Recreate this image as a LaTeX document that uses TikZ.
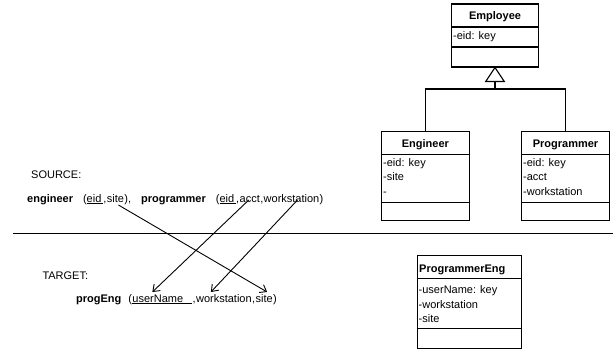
\documentclass[tikz,border=0pt]{standalone}
\usepackage{fontspec}
\setmainfont{Liberation Sans}
\usetikzlibrary{arrows.meta, positioning, calc}

\tikzset{
  txt/.style={inner sep=0pt, font=\fontsize{11}{13}\selectfont},
  ttl/.style={inner sep=0pt, anchor=base, font=\fontsize{11}{13}\selectfont\bfseries},
  attr/.style={txt, anchor=base west},
  cls/.style={draw, line width=1.1pt, inner sep=0pt},
  bar/.style={line width=1.1pt},
  map/.style={line width=0.9pt, -{Straight Barb[length=6pt,width=9pt]}},
}

\begin{document}
\begin{tikzpicture}[x=1pt, y=-1pt]
\useasboundingbox (0,0) rectangle (613,350);

\node[cls, minimum width=86.6pt, minimum height=63pt] (emp) at (495,35.5) {};
\node[cls, minimum width=87.3pt, minimum height=89pt] (eng) at (425.4,176.2) {};
\node[cls, minimum width=87.6pt, minimum height=89pt] (prg) at (565.5,176.2) {};
\node[cls, minimum width=104.4pt, minimum height=92.6pt] (pe) at (469.5,302) {};
\draw[bar]
  (emp.west |- 0,27) -- (emp.east |- 0,27)
  (emp.west |- 0,47) -- (emp.east |- 0,47)
  (eng.west |- 0,154.3) -- (eng.east |- 0,154.3)
  (eng.west |- 0,202.7) -- (eng.east |- 0,202.7)
  (prg.west |- 0,154.3) -- (prg.east |- 0,154.3)
  (prg.west |- 0,202.7) -- (prg.east |- 0,202.7)
  (pe.west |- 0,278.3) -- (pe.east |- 0,278.3)
  (pe.west |- 0,328.3) -- (pe.east |- 0,328.3);

\node[ttl] (empT) at (495,20) {Employee};
\node[attr] (empA) at (453,39.3) {-eid: key};
\node[ttl] (engT) at (425.4,147.5) {Engineer};
\node[attr] (engA) at (383,166.3) {-eid: key};
\node[attr] (engB) at (383,180.8) {-site};
\node[attr] (engC) at (383,195.3) {-};
\node[ttl] (prgT) at (565.5,147.5) {Programmer};
\node[attr] (prgA) at (523,166.3) {-eid: key};
\node[attr] (prgB) at (523,180.8) {-acct};
\node[attr] (prgC) at (523,195.3) {-workstation};
\node[ttl, anchor=base west] (peT) at (419,272.3) {ProgrammerEng};
\node[attr] (peA) at (418.5,293.3) {-userName: key};
\node[attr] (peB) at (418.5,308) {-workstation};
\node[attr] (peC) at (418.5,322.7) {-site};

\draw[bar] (emp.south) -- ++(-9.3,14) -- ++(18.6,0) -- cycle;
\path (emp.south) ++(0,14) coordinate (tri);
\coordinate (join) at (495,89);
\draw[bar] (tri) -- (join) (eng.north) |- (join) -| (prg.north);

\draw[line width=1.2pt] (13,233.3) -- (613,233.3);

\node[attr] (src) at (31,178.3) {SOURCE:};
\node[attr] (sEng) at (27,202) {\textbf{engineer}\hspace{10pt}(\underline{eid\hspace{2pt}},};
\node[txt, base right=0pt of sEng] (sSite) {site};
\node[txt, base right=0pt of sSite] (sPrg) {),\hspace{10pt}\textbf{programmer}\hspace{10pt}(\underline{eid\hspace{2pt}},};
\node[txt, base right=0pt of sPrg] (sAcct) {acct};
\node[txt, base right=0pt of sAcct] (sCom) {,};
\node[txt, base right=0pt of sCom] (sWs) {workstation};
\node[txt, base right=0pt of sWs] (sEnd) {)};

\node[attr] (tgt) at (42.3,279.3) {TARGET:};
\node[attr] (tPe) at (76,302) {\textbf{progEng}\hspace{7pt}(};
\node[txt, base right=0pt of tPe] (tUser) {\underline{userName\hspace{9pt}}};
\node[txt, base right=0pt of tUser] (tCom) {,};
\node[txt, base right=0pt of tCom] (tWs) {workstation};
\node[txt, base right=0pt of tWs] (tCom2) {,};
\node[txt, base right=0pt of tCom2] (tSite) {site};
\node[txt, base right=0pt of tSite] (tEnd) {)};

\draw[map] ($(sSite.base)+(3,3)$) -- ($(tSite.base)+(3,-10)$);
\draw[map] ($(sAcct.base)+(-1,-2)$) -- ($(tUser.base)+(-10,-10)$);
\draw[map] ($(sWs.base)+(6,-2)$) -- ($(tWs.base)+(-13,-10)$);
\end{tikzpicture}
\end{document}
